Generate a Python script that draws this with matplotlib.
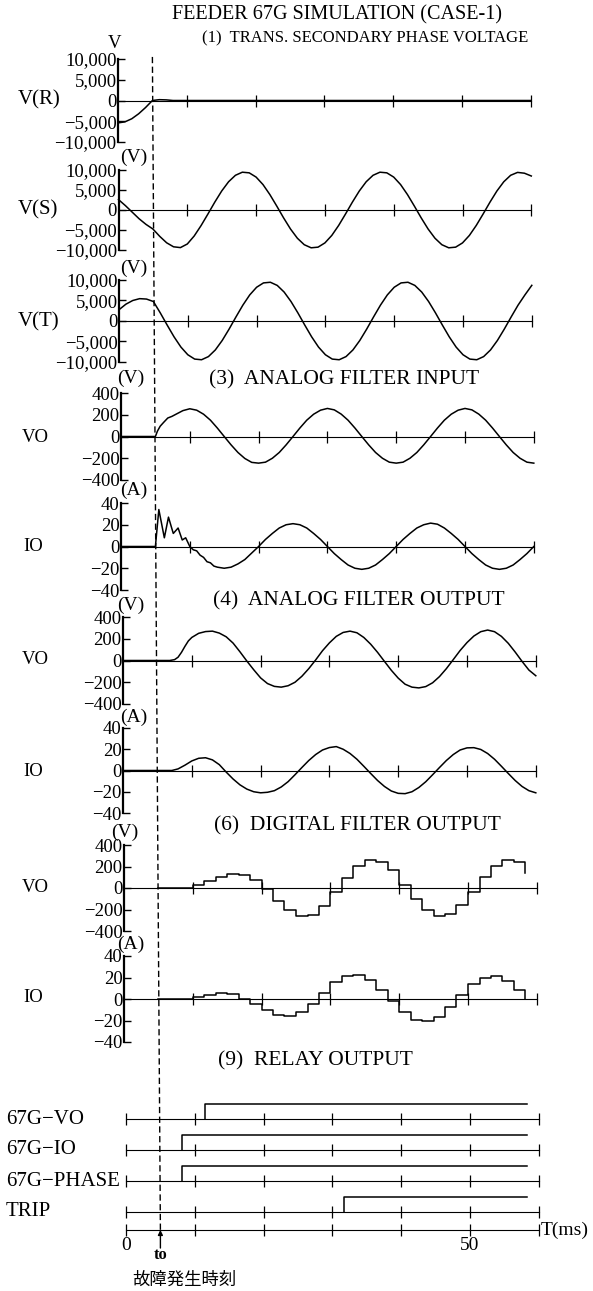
import numpy as np
import matplotlib
matplotlib.use('Agg')
import matplotlib.pyplot as plt
from matplotlib.lines import Line2D

plt.rcParams['font.family'] = ['Liberation Serif', 'DejaVu Serif']

# ---- datos (tiempo en ms) ----
T0 = 5.0                                   # instante de falla (to)
t_ticks = [10, 20, 30, 40, 50, 60]

# (1) tension de fase secundaria
tR = [0, 1, 2, 3, 4, 5, 6, 7, 8, 60]
vR = [-5400, -5150, -4400, -3200, -1700, 0, 200, 150, 0, 0]

t1 = list(range(0, 61))
vS = [2600, 1100, -550, -2200, -3600, -4750, -6600, -8200, -9200, -9400,
      -8500, -6500, -3900, -1000, 1980, 4750, 7060, 8680, 9450, 9290,
      8230, 6360, 3860, 990, -1980, -4750, -7060, -8680, -9450, -9290,
      -8230, -6360, -3860, -990, 1980, 4750, 7060, 8680, 9450, 9290,
      8230, 6360, 3860, 990, -1980, -4750, -7060, -8680, -9450, -9290,
      -8230, -6360, -3860, -990, 1980, 4750, 7060, 8680, 9400, 9200,
      8500]
vT = [2750, 4100, 5000, 5450, 5350, 4750, 1980, -990, -3860, -6360,
      -8230, -9290, -9450, -8680, -7060, -4750, -1980, 990, 3860, 6360,
      8230, 9290, 9450, 8680, 7060, 4750, 1980, -990, -3860, -6360,
      -8230, -9290, -9450, -8680, -7060, -4750, -1980, 990, 3860, 6360,
      8230, 9290, 9450, 8680, 7060, 4750, 1980, -990, -3860, -6360,
      -8230, -9290, -9450, -8680, -7060, -4750, -1980, 990, 3860, 6360,
      8700]

# (3) entrada filtro analogico
tV3 = [0, 5, 5.3, 5.7, 6.2, 6.8, 7.4, 8, 9, 10] + list(range(11, 61))
vV3 = [0, 0, 50, 95, 130, 170, 185, 205, 238, 255,
       242, 205, 150, 78, 0, -77, -147, -202, -238, -245,
       -236, -200, -147, -77, 0, 78, 150, 205, 242, 258,
       245, 206, 150, 78, 0, -77, -147, -200, -236, -245,
       -236, -200, -147, -77, 0, 78, 150, 205, 242, 258,
       245, 206, 150, 78, 0, -77, -147, -200, -236, -245]
tI3 = [0, 5.0, 5.5, 6.3, 6.9, 7.6, 8.3, 8.9, 9.4, 10.0, 10.5, 11, 11.5, 12,
       12.5, 13, 13.5, 14, 15, 16, 17, 18, 19, 20] + list(range(21, 61))
vI3 = [0, 0, 34, 8, 27, 12, 17, 6, 8, 0, -3, -4, -8, -10,
       -14, -15, -18, -19, -20, -19, -16, -12, -6, 0,
       6.5, 12, 17, 20, 21, 20, 17, 12, 6.5, 0,
       -6.5, -12, -17, -20, -21, -20, -17, -12, -6.5, 0,
       6.5, 12, 17, 20, 21.5, 20.5, 17, 12, 6.5, 0,
       -6.5, -12, -17, -20, -21, -20, -17, -12, -6.5, 0]

# (4) salida filtro analogico
tV4 = [0, 6.8, 7.5, 8, 8.5, 9, 9.5, 10, 11, 12, 13] + list(range(14, 61))
vV4 = [0, 0, 8, 30, 75, 130, 180, 212, 250, 266, 270,
       252, 218, 160, 80, -5, -85, -160,
       -212, -238, -245, -232, -200, -145, -75, 5, 90, 162,
       222, 258, 270, 255, 212, 150, 75, -8, -90, -162,
       -218, -245, -252, -240, -205, -148, -75, 8, 92, 165,
       225, 265, 280, 265, 222, 158, 78, -8, -88, -140]
tI4 = [0, 7.1] + list(range(8, 61))
vI4 = [0, 0, 1.5, 5, 9, 11.5, 12, 10, 5.5, -1.5, -8, -13.5, -17.5, -20, -21,
       -20.5, -19, -15.5, -10.5, -4, 2.8, 9.4, 15, 19.3, 21.6,
       22.5, 20, 16, 10.6, 4, -2.8, -9.4, -15, -19.3, -21.5,
       -21.8, -20, -16, -10.6, -4, 2.8, 9.4, 15, 19.3, 21.3,
       21.5, 19.8, 16, 10.6, 4, -2.8, -9.4, -15, -19, -21]

# (6) salida filtro digital (muestras escalonadas)
t_dig = [5.0, 10.0, 11.7, 13.3, 15.0, 16.7, 18.3, 20.0, 21.7, 23.3, 25.0,
         26.7, 28.3, 30.0, 31.7, 33.3, 35.0, 36.7, 38.3, 40.0, 41.7,
         43.3, 45.0, 46.7, 48.3, 50.0, 51.7, 53.3, 55.0, 56.7, 58.3]
vV6 = [0, 30, 64, 100, 130, 120, 73, -12, -121, -206, -262,
       -248, -165, -38, 97, 205, 260, 244, 165, 31, -100,
       -203, -257, -242, -159, -36, 103, 205, 260, 243, 140]
vI6 = [0, 1.8, 3.9, 5.4, 4.4, 0, -4.3, -10.6, -14.5, -16.1, -11.8,
       -4.7, 5.6, 16.2, 21.8, 22.6, 17.5, 8.3, -2.1, -12.2, -19.5,
       -20.6, -16.5, -7.8, 3.7, 14, 19.3, 21.7, 16.6, 8.6, 0]

# (9) salida de reles
relay_names = ['67G\u2212VO', '67G\u2212IO', '67G\u2212PHASE', 'TRIP']
relay_on = [11.5, 8.1, 8.1, 31.7]
relay_end = 58.3

volt_ticks = [10000, 5000, 0, -5000, -10000]
volt_labels = ['10,000', '5,000', '0', '\u22125,000', '\u221210,000']
vo_ticks = [400, 200, 0, -200, -400]
vo_labels = ['400', '200', '0', '\u2212200', '\u2212400']
io_ticks = [40, 20, 0, -20, -40]
io_labels = ['40', '20', '0', '\u221220', '\u221240']

# ---- figura ----
W, H = 593, 1291
PXMS = 6.88          # pixeles por ms
fig = plt.figure(figsize=(W / 100, H / 100), dpi=100)
fig.patch.set_facecolor('white')


def fx(x):
    return x / W


def fy(y):
    return 1 - y / H


def panel(x0, ytop, ybot, lim, ticks, labels):
    ax = fig.add_axes([fx(x0), fy(ybot), PXMS * 60 / W, (ybot - ytop) / H])
    ax.set_xlim(0, 60)
    ax.set_ylim(-lim, lim)
    for s in ['top', 'right', 'bottom']:
        ax.spines[s].set_visible(False)
    ax.spines['left'].set_linewidth(1.6)
    ax.set_xticks([])
    ax.set_yticks(ticks)
    ax.set_yticklabels(labels)
    ax.tick_params(axis='y', direction='in', length=5, width=1, pad=1, labelsize=13.5)
    ax.patch.set_alpha(0)
    ax.plot([0, 60], [0, 0], color='k', lw=0.8, clip_on=False)
    ax.plot(t_ticks, [0] * len(t_ticks), ls='none', marker='|', ms=8, mew=0.9,
            color='k', clip_on=False)
    return ax


def curva(ax, t, v):
    ax.plot(t, v, color='k', lw=1.1, clip_on=False)


axR = panel(118, 59, 142, 10000, volt_ticks, volt_labels)
curva(axR, tR, vR)
axS = panel(118.5, 170, 250, 10000, volt_ticks, volt_labels)
curva(axS, t1, vS)
axT = panel(119, 280, 362, 10000, volt_ticks, volt_labels)
curva(axT, t1, vT)

axV3 = panel(121, 393, 480, 400, vo_ticks, vo_labels)
curva(axV3, tV3, vV3)
axI3 = panel(121, 503, 590, 40, io_ticks, io_labels)
curva(axI3, tI3, vI3)

axV4 = panel(123, 617, 704, 400, vo_ticks, vo_labels)
curva(axV4, tV4, vV4)
axI4 = panel(123, 728, 813, 40, io_ticks, io_labels)
curva(axI4, tI4, vI4)

axV6 = panel(124, 845, 931, 400, vo_ticks, vo_labels)
axV6.step(t_dig, vV6, where='post', color='k', lw=1.1, clip_on=False)
axI6 = panel(124, 956, 1042, 40, io_ticks, io_labels)
axI6.step(t_dig, vI6, where='post', color='k', lw=1.1, clip_on=False)

# reles: filas a 31 px, eje de tiempo 18 px bajo TRIP
axRel = fig.add_axes([fx(126), fy(1261.6), PXMS * 60 / W, 158.1 / H])
axRel.set_xlim(0, 60)
axRel.set_ylim(-0.6, 4.5)
axRel.axis('off')
rows = [4, 3, 2, 1]
h_on = 0.48
for name, ton, yr in zip(relay_names, relay_on, rows):
    axRel.plot([0, 60], [yr, yr], color='k', lw=0.8, clip_on=False)
    axRel.plot([0] + t_ticks, [yr] * 7, ls='none', marker='|', ms=8, mew=0.9,
               color='k', clip_on=False)
    axRel.plot([ton, ton, relay_end], [yr, yr + h_on, yr + h_on], color='k',
               lw=1.1, clip_on=False)
y_ax = 0.42
axRel.plot([0, 60], [y_ax, y_ax], color='k', lw=0.8, clip_on=False)
axRel.plot([0] + t_ticks, [y_ax] * 7, ls='none', marker='|', ms=8, mew=0.9,
           color='k', clip_on=False)
axRel.annotate('', xy=(T0, y_ax), xytext=(0, -13), textcoords='offset points',
               arrowprops=dict(arrowstyle='-|>', color='k', lw=1.0,
                               mutation_scale=7, shrinkA=0, shrinkB=0))

# linea de trazos en to
inv = fig.transFigure.inverted()
p_top = inv.transform(axR.transData.transform((T0, 10500)))
p_bot = inv.transform(axRel.transData.transform((T0, y_ax)))
fig.add_artist(Line2D([p_top[0], p_bot[0]], [p_top[1], p_bot[1]], color='k',
                      lw=1.0, dashes=(4.5, 2.5)))

# ---- textos ----
fig.text(fx(172), fy(15), 'FEEDER 67G SIMULATION (CASE-1)', fontsize=14.5,
         ha='left', va='center')
fig.text(fx(202), fy(38), '(1)  TRANS. SECONDARY PHASE VOLTAGE', fontsize=12,
         ha='left', va='center')
fig.text(fx(209), fy(380), '(3)  ANALOG FILTER INPUT', fontsize=15.5,
         ha='left', va='center')
fig.text(fx(213), fy(601), '(4)  ANALOG FILTER OUTPUT', fontsize=15.5,
         ha='left', va='center')
fig.text(fx(214), fy(826), '(6)  DIGITAL FILTER OUTPUT', fontsize=15.5,
         ha='left', va='center')
fig.text(fx(218), fy(1061), '(9)  RELAY OUTPUT', fontsize=15.5,
         ha='left', va='center')

fig.text(fx(115), fy(44), 'V', fontsize=13.5, ha='center', va='center')
for x, y, s in [(134, 157, '(V)'), (134, 268, '(V)'), (131, 378, '(V)'),
                (134, 490, '(A)'), (131, 605, '(V)'), (134, 717, '(A)'),
                (125, 832, '(V)'), (131, 944, '(A)')]:
    fig.text(fx(x), fy(y), s, fontsize=14, ha='center', va='center')

for x, y, s in [(18, 100, 'V(R)'), (18, 210, 'V(S)'), (18, 322, 'V(T)')]:
    fig.text(fx(x), fy(y), s, fontsize=15, ha='left', va='center')
for x, y, s in [(22, 437, 'VO'), (23, 547, 'IO'), (22, 660, 'VO'),
                (23, 771, 'IO'), (22, 887, 'VO'), (23, 998, 'IO')]:
    fig.text(fx(x), fy(y), s, fontsize=13.5, ha='left', va='center')

for name, yr in zip(relay_names, rows):
    p = inv.transform(axRel.transData.transform((0, yr)))
    fig.text(fx(6), p[1], name, fontsize=15, ha='left', va='center')

for tv, s in [(0, '0'), (50, '50')]:
    axRel.annotate(s, xy=(tv, y_ax), xytext=(0, -11), textcoords='offset points',
                   ha='center', va='center', fontsize=14)
axRel.annotate('T(ms)', xy=(60, y_ax), xytext=(1, 0), textcoords='offset points',
               ha='left', va='center', fontsize=14)
axRel.annotate('to', xy=(T0, y_ax), xytext=(0, -18), textcoords='offset points',
               ha='center', va='center', fontsize=12, fontweight='bold')
fig.text(fx(132), fy(1280), '故障発生時刻', fontsize=12.5, ha='left', va='center',
         family=['Noto Sans CJK JP', 'DejaVu Sans'])

fig.savefig('out.png', dpi=100)
